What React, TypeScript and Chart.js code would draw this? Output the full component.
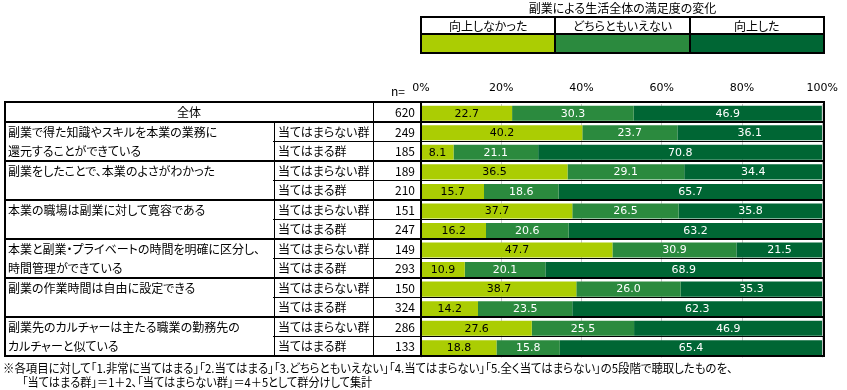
import React, { useEffect, useRef } from "react";
import { Chart, registerables } from "chart.js";

Chart.register(...registerables);

// ---- data ----
const groupLabels: string[][] = [
  ["副業で得た知識やスキルを本業の業務に", "還元することができている"],
  ["副業をしたことで、本業のよさがわかった"],
  ["本業の職場は副業に対して寛容である"],
  ["本業と副業・プライベートの時間を明確に区分し、", "時間管理ができている"],
  ["副業の作業時間は自由に設定できる"],
  ["副業先のカルチャーは主たる職業の勤務先の", "カルチャーと似ている"],
];
const totalLabel = "全体";
const subgroupLabels = ["当てはまらない群", "当てはまる群"];
const rowKeys = [
  "全体",
  "G1-当てはまらない群", "G1-当てはまる群",
  "G2-当てはまらない群", "G2-当てはまる群",
  "G3-当てはまらない群", "G3-当てはまる群",
  "G4-当てはまらない群", "G4-当てはまる群",
  "G5-当てはまらない群", "G5-当てはまる群",
  "G6-当てはまらない群", "G6-当てはまる群",
];
const nValues = [620, 249, 185, 189, 210, 151, 247, 149, 293, 150, 324, 286, 133];
const seriesNames = ["向上しなかった", "どちらともいえない", "向上した"];
const notImproved = [22.7, 40.2, 8.1, 36.5, 15.7, 37.7, 16.2, 47.7, 10.9, 38.7, 14.2, 27.6, 18.8];
const neutral = [30.3, 23.7, 21.1, 29.1, 18.6, 26.5, 20.6, 30.9, 20.1, 26.0, 23.5, 25.5, 15.8];
const improved = [46.9, 36.1, 70.8, 34.4, 65.7, 35.8, 63.2, 21.5, 68.9, 35.3, 62.3, 46.9, 65.4];
const tickValues = [0, 20, 40, 60, 80, 100];
const legendTitle = "副業による生活全体の満足度の変化";
const footnote1 =
  "※各項目に対して「1.非常に当てはまる」「2.当てはまる」「3.どちらともいえない」「4.当てはまらない」「5.全く当てはまらない」の5段階で聴取したものを、";
const footnote2 = "「当てはまる群」＝1＋2、「当てはまらない群」＝4＋5として群分けして集計";
const nLabel = "n=";

// ---- layout ----
const W = 847;
const H = 390;
const TOP = 102;
const BOTTOM = 356;
const BAR_SHIFT = 1.5;
const ROWS = rowKeys.length;
const RH = (BOTTOM - TOP) / ROWS;
const PLOT_L = 421;
const PLOT_R = 823;
const X_LEFT = 5;
const X_SUB = 274;
const X_N = 373;
const COLORS = ["#abcd03", "#2b8a3e", "#006634"];
const JP = '"Noto Sans CJK JP", "Noto Sans", sans-serif';

const valueLabels = {
  id: "valueLabels",
  afterDatasetsDraw(chart: any) {
    const ctx = chart.ctx;
    ctx.save();
    ctx.font = '11px "DejaVu Sans", sans-serif';
    ctx.textAlign = "center";
    ctx.textBaseline = "middle";
    chart.data.datasets.forEach((ds: any, di: number) => {
      const meta = chart.getDatasetMeta(di);
      meta.data.forEach((bar: any, i: number) => {
        const v = ds.data[i] as number;
        const p = bar.getProps(["x", "base", "y"], true);
        ctx.fillStyle = di === 0 ? "#000" : "#fff";
        ctx.fillText(v.toFixed(1), (p.x + p.base) / 2, p.y + 0.5);
      });
    });
    ctx.restore();
  },
};

function HLine({ y, x1, x2, w }: { y: number; x1: number; x2: number; w: number }) {
  return (
    <div
      style={{
        position: "absolute",
        left: x1 - 1,
        width: x2 - x1 + 2,
        top: Math.round(y - w / 2),
        height: w,
        background: "#000",
      }}
    />
  );
}
function VLine({ x, y1, y2, w }: { x: number; y1: number; y2: number; w: number }) {
  return (
    <div
      style={{
        position: "absolute",
        top: y1 - 1,
        height: y2 - y1 + 2,
        left: Math.round(x - w / 2),
        width: w,
        background: "#000",
      }}
    />
  );
}

export default function App() {
  const ref = useRef<HTMLCanvasElement>(null);
  useEffect(() => {
    if (!ref.current) return;
    const chart = new Chart(ref.current, {
      type: "bar",
      data: {
        labels: rowKeys,
        datasets: [notImproved, neutral, improved].map((d, i) => ({
          label: seriesNames[i],
          data: d,
          backgroundColor: COLORS[i],
          borderWidth: 0,
          barPercentage: 0.77,
          categoryPercentage: 1,
        })),
      },
      options: {
        indexAxis: "y",
        animation: false,
        responsive: false,
        maintainAspectRatio: false,
        layout: {
          padding: {
            left: PLOT_L,
            right: W - PLOT_R,
            top: TOP - 24 + BAR_SHIFT,
            bottom: H - BOTTOM - BAR_SHIFT,
          },
        },
        scales: {
          x: {
            stacked: true,
            position: "top",
            min: 0,
            max: 100,
            afterBuildTicks: (s: any) => {
              s.ticks = tickValues.map((v) => ({ value: v }));
            },
            afterFit: (s: any) => {
              s.height = 24;
            },
            ticks: {
              callback: (v: any) => v + "%",
              color: "#000",
              font: { family: '"DejaVu Sans", sans-serif', size: 11 },
              padding: 9,
              maxRotation: 0,
            },
            grid: { color: "#c8c8c8", drawTicks: false },
            border: { display: false },
          },
          y: { stacked: true, display: false },
        },
        plugins: { legend: { display: false }, tooltip: { enabled: false } },
      },
      plugins: [valueLabels],
    } as any);
    return () => chart.destroy();
  }, []);

  const rowY = (k: number) => TOP + k * RH;
  const textStyle: React.CSSProperties = {
    position: "absolute",
    fontFamily: JP,
    fontSize: 12,
    fontFeatureSettings: '"palt"',
    color: "#000",
    whiteSpace: "nowrap",
    height: RH,
    lineHeight: RH + "px",
  };

  const cells: React.ReactNode[] = [];
  cells.push(
    <div key="total" style={{ ...textStyle, left: X_LEFT, width: X_N - X_LEFT, top: rowY(0), textAlign: "center" }}>
      {totalLabel}
    </div>
  );
  groupLabels.forEach((lines, g) => {
    lines.forEach((t, li) => {
      cells.push(
        <div key={"g" + g + li} style={{ ...textStyle, left: 8, top: rowY(1 + g * 2 + li) }}>
          {t}
        </div>
      );
    });
    subgroupLabels.forEach((t, si) => {
      cells.push(
        <div key={"s" + g + si} style={{ ...textStyle, left: X_SUB + 4, top: rowY(1 + g * 2 + si) }}>
          {t}
        </div>
      );
    });
  });
  nValues.forEach((n, i) => {
    cells.push(
      <div key={"n" + i} style={{ ...textStyle, left: X_N, width: PLOT_L - X_N - 6, top: rowY(i), textAlign: "right" }}>
        {n}
      </div>
    );
  });

  const lines: React.ReactNode[] = [];
  for (let k = 0; k <= ROWS; k++) {
    const thick = k === 0 || k % 2 === 1 || k === ROWS;
    lines.push(
      <HLine key={"h" + k} y={rowY(k)} x1={thick ? X_LEFT : X_SUB} x2={PLOT_R + 1} w={thick ? 2 : 1} />
    );
  }
  lines.push(<VLine key="v0" x={X_LEFT} y1={TOP} y2={BOTTOM} w={2} />);
  lines.push(<VLine key="v1" x={X_SUB} y1={rowY(1)} y2={BOTTOM} w={1} />);
  lines.push(<VLine key="v2" x={X_N} y1={TOP} y2={BOTTOM} w={1} />);
  lines.push(<VLine key="v3" x={PLOT_L - 0.5} y1={TOP} y2={BOTTOM} w={2} />);
  lines.push(<VLine key="v4" x={PLOT_R + 1} y1={TOP} y2={BOTTOM} w={2} />);

  // legend
  const LG_L = 421;
  const LG_R = 824;
  const LG_T = 17;
  const LG_M = 34;
  const LG_B = 53;
  const cw = (LG_R - LG_L) / 3;

  const footStyle: React.CSSProperties = {
    position: "absolute",
    height: 16,
    lineHeight: "16px",
    fontFamily: JP,
    fontSize: 12,
    fontFeatureSettings: '"palt"',
    whiteSpace: "nowrap",
    color: "#000",
    transformOrigin: "0 50%",
  };

  return (
    <div style={{ position: "fixed", left: 0, top: 0, width: W, height: H, background: "#fff", overflow: "hidden" }}>
      <canvas ref={ref} width={W} height={H} style={{ position: "absolute", left: 0, top: 0, width: W, height: H }} />
      <div
        style={{
          position: "absolute",
          left: LG_L,
          width: LG_R - LG_L,
          top: 0,
          height: 16,
          lineHeight: "16px",
          textAlign: "center",
          fontFamily: JP,
          fontSize: 12,
          fontFeatureSettings: '"palt"',
          color: "#000",
        }}
      >
        {legendTitle}
      </div>
      {seriesNames.map((s, i) => (
        <React.Fragment key={"lg" + i}>
          <div
            style={{
              position: "absolute",
              left: LG_L + i * cw,
              width: cw,
              top: LG_T,
              height: LG_M - LG_T,
              lineHeight: LG_M - LG_T + "px",
              textAlign: "center",
              fontFamily: JP,
              fontSize: 12,
              fontFeatureSettings: '"palt"',
              color: "#000",
            }}
          >
            {s}
          </div>
          <div
            style={{
              position: "absolute",
              left: LG_L + i * cw,
              width: cw,
              top: LG_M,
              height: LG_B - LG_M,
              background: COLORS[i],
            }}
          />
        </React.Fragment>
      ))}
      <HLine y={LG_T} x1={LG_L} x2={LG_R} w={2} />
      <HLine y={LG_M} x1={LG_L} x2={LG_R} w={2} />
      <HLine y={LG_B} x1={LG_L} x2={LG_R} w={2} />
      {[0, 1, 2, 3].map((i) => (
        <VLine key={"lv" + i} x={LG_L + i * cw} y1={LG_T} y2={LG_B} w={2} />
      ))}
      <div
        style={{
          position: "absolute",
          left: 380,
          width: 25,
          top: 83,
          height: 16,
          lineHeight: "16px",
          textAlign: "right",
          fontFamily: JP,
          fontSize: 12,
          color: "#000",
        }}
      >
        {nLabel}
      </div>
      {cells}
      {lines}
      <div style={{ ...footStyle, left: 3, top: 360, transform: "scaleX(0.95)" }}>{footnote1}</div>
      <div style={{ ...footStyle, left: 22, top: 374, transform: "scaleX(0.93)" }}>{footnote2}</div>
    </div>
  );
}
